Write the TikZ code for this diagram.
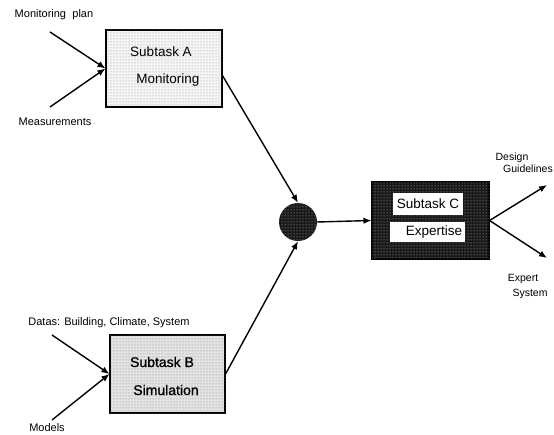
\documentclass[tikz,border=0pt]{standalone}
\usepackage{fontspec}
\setmainfont{Liberation Sans}
\newfontfamily\heavyfont{Liberation Sans}[FakeBold=1.2]
\usetikzlibrary{arrows.meta,patterns}
\begin{document}
\begin{tikzpicture}[x=1pt,y=-1pt,
  conn/.style={line width=1.4pt,-{Latex[length=8pt,width=6.5pt]}},
  lbl/.style={font=\fontsize{11}{12}\selectfont,inner sep=0pt},
  rlbl/.style={font=\fontsize{10.5}{12}\selectfont,inner sep=0pt},
  boxtxt/.style={font=\fontsize{13.5}{15}\selectfont,inner sep=0pt},
  boldtxt/.style={font=\heavyfont\fontsize{14}{15}\selectfont,inner sep=0pt},
  taskbox/.style={draw=black,line width=1.1pt,inner sep=0pt},
  whitebox/.style={fill=white,inner sep=0pt}]
\useasboundingbox (0,0) rectangle (554,435);
% boxes
\node[taskbox,minimum width=116pt,minimum height=77pt,fill=gray!8,
  postaction={pattern=dots,pattern color=gray!90}] (A) at (164,68.5) {};
\node[taskbox,minimum width=115pt,minimum height=78pt,fill=gray!22,
  postaction={pattern=dots,pattern color=gray}] (B) at (167.5,374) {};
\node[taskbox,minimum width=117pt,minimum height=77pt,fill=black!90,
  postaction={pattern=dots,pattern color=white!75!black}] (C) at (430.5,220.5) {};
\node[whitebox,minimum width=70pt,minimum height=22pt] (cw1) at (428,204) {};
\node[whitebox,minimum width=75pt,minimum height=20pt] (cw2) at (427.5,232) {};
\node[circle,minimum size=38pt,inner sep=0pt,fill=black!90,
  postaction={pattern=dots,pattern color=white!75!black}] (M) at (298,222) {};
% box texts
\node[boxtxt] (ta1) at (161,52) {Subtask A};
\node[boxtxt] (ta2) at (168,80) {Monitoring};
\node[boldtxt] (tb1) at (162,362) {Subtask B};
\node[boldtxt] (tb2) at (166,390) {Simulation};
\node[boxtxt] (tc1) at (428,204) {Subtask C};
\node[boxtxt] (tc2) at (434,232) {Expertise};
% labels
\node[lbl] (l1) at (54,15) {Monitoring\hspace{0.3em} plan};
\node[lbl] (l2) at (55,122) {Measurements};
\node[lbl] (l3) at (109,323) {Datas: Building, Climate, System};
\node[lbl] (l4) at (47,428) {Models};
\node[rlbl] (r1) at (512,158) {Design};
\node[rlbl] (r2) at (528,169) {Guidelines};
\node[rlbl] (r3) at (523,279) {Expert};
\node[rlbl] (r4) at (530,294) {System};
% free ends
\coordinate (p1) at (50,32);
\coordinate (p2) at (50,107);
\coordinate (p3) at (52,335);
\coordinate (p4) at (52,420);
\coordinate (q1) at (547,185);
\coordinate (q2) at (547,258);
% connectors
\draw[conn] (p1) -- (A.west);
\draw[conn] (p2) -- (A.west);
\draw[conn] (A.-7) -- (M.north);
\draw[conn] (p3) -- (B.west);
\draw[conn] (p4) -- (B.west);
\draw[conn] (B.east) -- (M.south);
\draw[conn] (M.east) -- (C.west);
\draw[conn] (C.east) -- (q1);
\draw[conn] (C.east) -- (q2);
\end{tikzpicture}
\end{document}
